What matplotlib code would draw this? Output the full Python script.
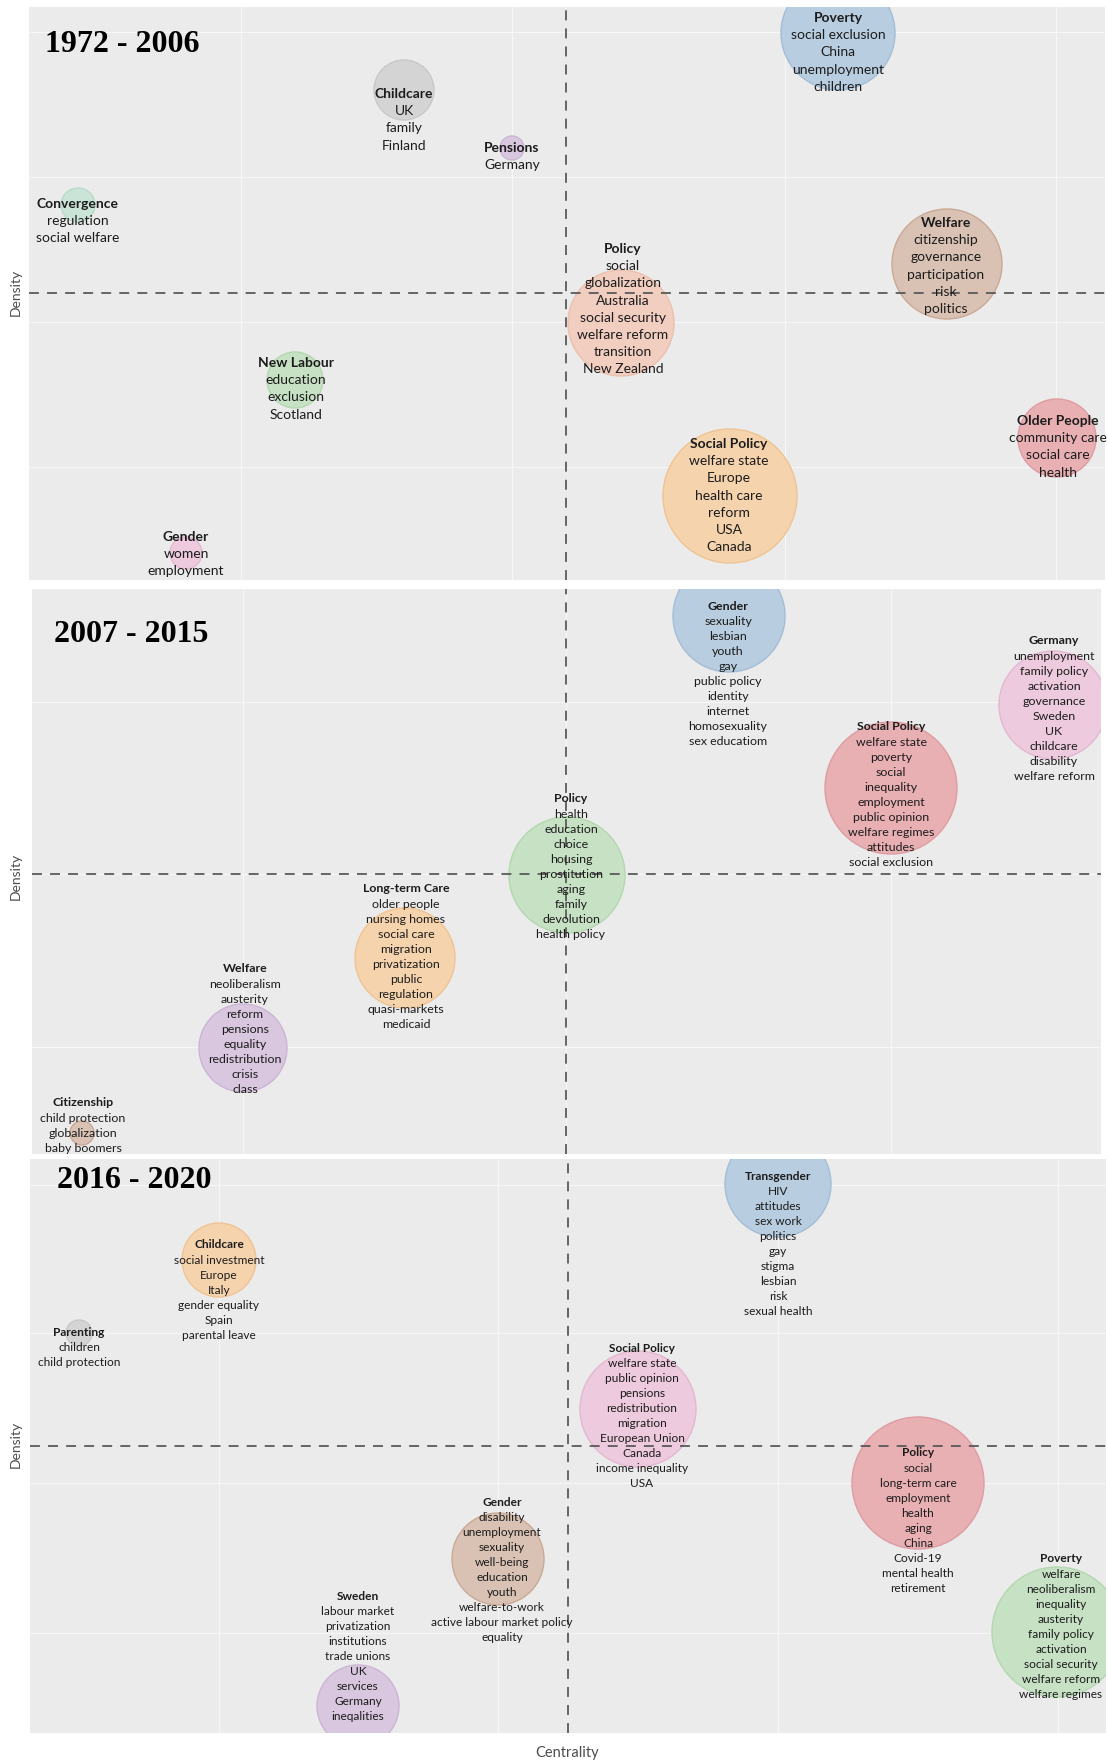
import matplotlib
matplotlib.use("Agg")
import matplotlib.pyplot as plt

W, H, DPI = 1108, 1762, 100

# ---------------- data ----------------
# Panel 1: 1972 - 2006
p1_period = "1972 - 2006"
p1_titles = ["Poverty", "Childcare", "Pensions", "Convergence", "Welfare", "Policy",
             "New Labour", "Older People", "Social Policy", "Gender"]
p1_keywords = [
    ["social exclusion", "China", "unemployment", "children"],
    ["UK", "family", "Finland"],
    ["Germany"],
    ["regulation", "social welfare"],
    ["citizenship", "governance", "participation", "risk", "politics"],
    ["social", "globalization", "Australia", "social security", "welfare reform", "transition", "New Zealand"],
    ["education", "exclusion", "Scotland"],
    ["community care", "social care", "health"],
    ["welfare state", "Europe", "health care", "reform", "USA", "Canada"],
    ["women", "employment"],
]
p1_centrality = [2.72, -1.62, -0.54, -4.88, 3.81, 0.55, -2.71, 4.91, 1.64, -3.80]
p1_density = [2.60, 2.03, 1.45, 0.88, 0.29, -0.30, -0.87, -1.45, -2.03, -2.60]
p1_size = [57, 30, 12, 17, 55, 53, 28, 39, 67, 16]

# Panel 2: 2007 - 2015
p2_period = "2007 - 2015"
p2_titles = ["Gender", "Germany", "Social Policy", "Policy", "Long-term Care", "Welfare", "Citizenship"]
p2_keywords = [
    ["sexuality", "lesbian", "youth", "gay", "public policy", "identity", "internet", "homosexuality", "sex educatiom"],
    ["unemployment", "family policy", "activation", "governance", "Sweden", "UK", "childcare", "disability", "welfare reform"],
    ["welfare state", "poverty", "social", "inequality", "employment", "public opinion", "welfare regimes", "attitudes", "social exclusion"],
    ["health", "education", "choice", "housing", "prostitution", "aging", "family", "devolution", "health policy"],
    ["older people", "nursing homes", "social care", "migration", "privatization", "public", "regulation", "quasi-markets", "medicaid"],
    ["neoliberalism", "austerity", "reform", "pensions", "equality", "redistribution", "crisis", "class"],
    ["child protection", "globalization", "baby boomers"],
]
p2_centrality = [1.63, 4.87, 3.25, 0.01, -1.61, -3.23, -4.84]
p2_density = [2.58, 1.69, 0.86, -0.01, -0.84, -1.74, -2.59]
p2_size = [56, 54, 66, 58, 50, 44, 12]

# Panel 3: 2016 - 2020
p3_period = "2016 - 2020"
p3_titles = ["Transgender", "Childcare", "Parenting", "Social Policy", "Policy", "Gender", "Sweden", "Poverty"]
p3_keywords = [
    ["HIV", "attitudes", "sex work", "politics", "gay", "stigma", "lesbian", "risk", "sexual health"],
    ["social investment", "Europe", "Italy", "gender equality", "Spain", "parental leave"],
    ["children", "child protection"],
    ["welfare state", "public opinion", "pensions", "redistribution", "migration", "European Union", "Canada", "income inequality", "USA"],
    ["social", "long-term care", "employment", "health", "aging", "China", "Covid-19", "mental health", "retirement"],
    ["disability", "unemployment", "sexuality", "well-being", "education", "youth", "welfare-to-work", "active labour market policy", "equality"],
    ["labour market", "privatization", "institutions", "trade unions", "UK", "services", "Germany", "ineqalities"],
    ["welfare", "neoliberalism", "inequality", "austerity", "family policy", "activation", "social security", "welfare reform", "welfare regimes"],
]
p3_centrality = [2.10, -3.49, -4.89, 0.70, 3.50, -0.70, -2.10, 4.89]
p3_density = [2.62, 1.86, 1.13, 0.37, -0.37, -1.13, -2.60, -1.86]
p3_size = [53, 37, 13, 58, 66, 46, 41, 65]

# ---------------- style / layout ----------------
palette = {
    'blue': ('#B8CDE0', '#A3BDD6'),
    'gray': ('#D4D4D4', '#C8C8C8'),
    'purple': ('#D9C7DF', '#CBB5D4'),
    'teal': ('#CBE4D8', '#B9DBCB'),
    'brown': ('#D9C2B4', '#C9A995'),
    'salmon': ('#F1CEC0', '#EBC0AE'),
    'green': ('#C6E1C3', '#B3D8AF'),
    'red': ('#E9B0B4', '#DE9CA2'),
    'orange': ('#F5D3AD', '#EFC392'),
    'pink': ('#EDCADE', '#E3B8D1'),
}
p1_colors = ['blue', 'gray', 'purple', 'teal', 'brown', 'salmon', 'green', 'red', 'orange', 'pink']
p2_colors = ['blue', 'pink', 'red', 'green', 'orange', 'purple', 'brown']
p3_colors = ['blue', 'orange', 'gray', 'pink', 'red', 'brown', 'purple', 'green']

# label offsets (px): (dx, dy of first line relative to bubble centre, downward positive)
p1_offsets = [(0, -15), (0, 4), (0, 0), (0, -1), (-1, -41), (2, -74), (1, -17), (1, -17), (-1, -52), (0, -16)]
p2_offsets = [(-1, -10), (1, -64), (0, -61), (4, -76), (1, -69), (2, -79), (1, -30)]
p3_offsets = [(0, -8), (0, -15), (0, -1), (4, -61), (0, -30), (4, -57), (0, -110), (4, -73)]

# panel boxes in px (left, top, right, bottom) and dashed-line crossing px
panels = [
    dict(box=(29, 7, 1105, 580), cross=(566, 293), gx=[-3.25, -0.54, 2.19, 4.90], gy=[2.61, 1.16, -0.29, -1.74],
         fs=10.0, sp=17.2, title_xy=(45, 45), dens_y=292),
    dict(box=(32, 589, 1101, 1154), cross=(566, 874), gx=[-3.23, 0.0, 3.25], gy=[1.72, 0.0, -1.73],
         fs=8.9, sp=15.1, title_xy=(54, 634), dens_y=876),
    dict(box=(30, 1159, 1106, 1733), cross=(568, 1446), gx=[-3.49, -0.70, 2.10, 4.90], gy=[2.61, 1.13, -0.37, -1.87],
         fs=8.6, sp=15.1, title_xy=(57, 1181), dens_y=1444),
]
panel_data = [
    (p1_period, p1_titles, p1_keywords, p1_centrality, p1_density, p1_size, p1_colors, p1_offsets),
    (p2_period, p2_titles, p2_keywords, p2_centrality, p2_density, p2_size, p2_colors, p2_offsets),
    (p3_period, p3_titles, p3_keywords, p3_centrality, p3_density, p3_size, p3_colors, p3_offsets),
]

FONT = 'Lato'
TXT = '#1c1c1c'

fig = plt.figure(figsize=(W / DPI, H / DPI), dpi=DPI)
fig.patch.set_facecolor('white')

for cfg, (period, titles, kws, cx, cy, size, cols, offs) in zip(panels, panel_data):
    l, t, r, b = cfg['box']
    xc, yc = cfg['cross']
    ax = fig.add_axes([l / W, 1 - b / H, (r - l) / W, (b - t) / H])
    ax.set_xlim((l - xc) / 100, (r - xc) / 100)
    ax.set_ylim((yc - b) / 100, (yc - t) / 100)
    ax.set_facecolor('#EBEBEB')
    ax.set_xticks(cfg['gx'])
    ax.set_yticks(cfg['gy'])
    ax.grid(True, color='#F6F6F6', lw=0.9)
    ax.set_axisbelow(True)
    ax.tick_params(length=0, labelbottom=False, labelleft=False)
    for s in ax.spines.values():
        s.set_visible(False)

    sizes = [(2 * rr * 72 / DPI) ** 2 for rr in size]
    ax.scatter(cx, cy, s=sizes, c=[palette[c][0] for c in cols],
               edgecolors=[palette[c][1] for c in cols], linewidths=1.0, zorder=2)
    ax.axvline(0, color='#5a5a5a', lw=1.3, ls=(0, (5.5, 4.5)), zorder=3)
    ax.axhline(0, color='#5a5a5a', lw=1.3, ls=(0, (5.5, 4.5)), zorder=3)

    for i in range(len(titles)):
        lines = [titles[i]] + kws[i]
        dx, dy = offs[i]
        for j, line in enumerate(lines):
            ax.annotate(line, (cx[i], cy[i]), xytext=(dx * 0.72, -(dy + j * cfg['sp']) * 0.72),
                        textcoords='offset points', ha='center', va='center',
                        fontsize=cfg['fs'], family=FONT, color=TXT,
                        fontweight='bold' if j == 0 else 'normal',
                        zorder=4, annotation_clip=False)

    tx, ty = cfg['title_xy']
    fig.text(tx / W, 1 - ty / H, period, ha='left', va='center', family='Liberation Serif',
             fontweight='bold', fontsize=23, color='black')
    fig.text(16 / W, 1 - cfg['dens_y'] / H, 'Density', rotation=90, ha='center', va='center',
             family=FONT, fontsize=10, color='#4d4d4d')

fig.text(567 / W, 1 - 1753 / H, 'Centrality', ha='center', va='center', family=FONT,
         fontsize=10.5, color='#4d4d4d')

fig.savefig('out.png', dpi=DPI, facecolor='white')
